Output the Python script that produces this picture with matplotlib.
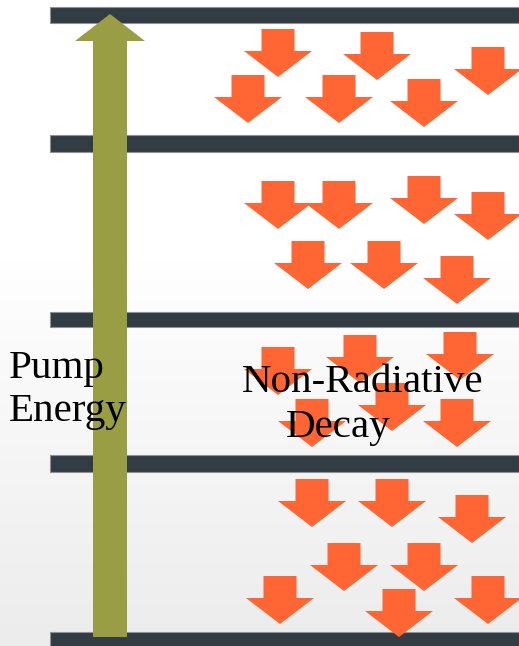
import matplotlib
matplotlib.use("Agg")
import matplotlib.pyplot as plt
from matplotlib.patches import Polygon, Rectangle
import numpy as np

# Energy level bars (top, bottom in pixel rows)
level_tops = [7, 135, 312, 455, 632]
level_bottoms = [23, 152, 327, 472, 648]

# Decay arrows: center x, top y
decay_x = [278, 377, 488, 248, 339, 424,
           278, 339, 424, 488, 308, 384, 457,
           278, 360, 460, 312, 392, 457,
           312, 392, 472, 344, 424, 280, 399, 488]
decay_top = [29, 32, 47, 75, 75, 79,
             181, 181, 176, 192, 241, 241, 256,
             347, 335, 332, 399, 383, 399,
             479, 479, 495, 543, 543, 576, 589, 576]

W, H = 519, 646
fig = plt.figure(figsize=(W / 100, H / 100), dpi=100)
ax = fig.add_axes([0, 0, 1, 1])
ax.set_xlim(0, W)
ax.set_ylim(H, 0)
ax.axis("off")

# background gradient
grad = np.ones((H, 1))
ys = np.arange(H)
grad[:, 0] = np.where(ys < 260, 1.0, 1.0 - 0.075 * (ys - 260) / (H - 260))
ax.imshow(np.dstack([grad, grad, grad]), extent=[0, W, H, 0], aspect="auto", zorder=0)

# level bars
for t, b in zip(level_tops, level_bottoms):
    ax.add_patch(Rectangle((50, t), W - 50, b - t, facecolor="#333c42",
                           edgecolor="#8c9296", lw=0.8, zorder=2))

# decay arrows
sw, sh, hw, hh = 16.5, 22, 34, 26
orange = "#ff6633"
for cx, ty in zip(decay_x, decay_top):
    pts = [(cx - sw, ty), (cx + sw, ty), (cx + sw, ty + sh), (cx + hw, ty + sh),
           (cx, ty + sh + hh), (cx - hw, ty + sh), (cx - sw, ty + sh)]
    ax.add_patch(Polygon(pts, closed=True, facecolor=orange, edgecolor="none", zorder=3))

# pump arrow
pcx, ptop, pbot = 110, 14, 637
pump = [(pcx - 17, pbot), (pcx + 17, pbot), (pcx + 17, 41), (pcx + 35, 41),
        (pcx, ptop), (pcx - 35, 41), (pcx - 17, 41)]
ax.add_patch(Polygon(pump, closed=True, facecolor="#999e45", edgecolor="none", zorder=4))

serif = ["Liberation Serif", "DejaVu Serif"]
fs = 29.5
ax.text(9, 378, "Pump", fontsize=fs, family=serif, ha="left", va="baseline", zorder=5)
ax.text(9, 421, "Energy", fontsize=fs, family=serif, ha="left", va="baseline", zorder=5)
ax.text(363, 392, "Non-Radiative", fontsize=fs, family=serif, ha="center", va="baseline", zorder=5)
ax.text(338, 437, "Decay", fontsize=fs, family=serif, ha="center", va="baseline", zorder=5)

fig.savefig("out.png", dpi=100)
